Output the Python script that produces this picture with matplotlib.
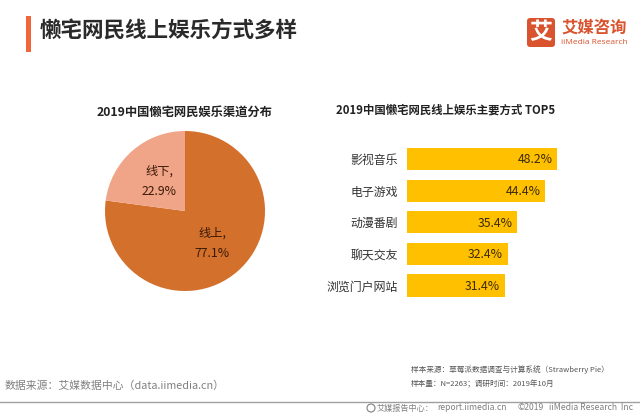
import matplotlib
matplotlib.use('Agg')
import matplotlib.pyplot as plt
from matplotlib.patches import Rectangle, FancyBboxPatch, Circle

plt.rcParams['font.family'] = ['Noto Sans CJK SC', 'DejaVu Sans']

# data
pie_labels = ['线上,\n77.1%', '线下,\n22.9%']
pie_values = [77.1, 22.9]
pie_colors = ['#D2702C', '#F0A488']

bar_labels = ['影视音乐', '电子游戏', '动漫番剧', '聊天交友', '浏览门户网站']
bar_values = [48.2, 44.4, 35.4, 32.4, 31.4]

# full width punctuation
COLON, SEMI, LP, RP = '\uff1a', '\uff1b', '\uff08', '\uff09'

W, H = 640, 416
fig = plt.figure(figsize=(W / 100, H / 100), dpi=100, facecolor='white')

# overlay in pixel coordinates for header and footer
bg = fig.add_axes([0, 0, 1, 1])
bg.set_xlim(0, W)
bg.set_ylim(H, 0)
bg.axis('off')

bg.add_patch(Rectangle((25.5, 16), 5.5, 36, color='#F0663A', lw=0))
bg.text(40, 31, '懒宅网民线上娱乐方式多样', fontsize=15.5, color='#2A2A2A', va='center', weight='bold')

# logo
bg.add_patch(FancyBboxPatch((527, 18), 28, 29, boxstyle='round,pad=0,rounding_size=3', color='#D9532E', lw=0))
bg.text(541, 33, '艾', fontsize=16.5, color='white', weight='bold', ha='center', va='center')
bg.text(561, 28, '艾媒咨询', fontsize=11.8, color='#D9532E', weight='bold', va='center')
bg.text(561, 42, 'iiMedia Research', fontsize=6, color='#D9532E', va='center', family=['Open Sans'])

bg.text(185, 112, '2019中国懒宅网民娱乐渠道分布', fontsize=8.85, color='#222222', weight='bold', ha='center', va='center')
bg.text(446, 110, '2019中国懒宅网民线上娱乐主要方式 TOP5', fontsize=8.2, color='#222222', weight='bold', ha='center', va='center')

# footer
bg.text(5, 386, f'数据来源{COLON}艾媒数据中心{LP}data.iimedia.cn{RP}', fontsize=7.8, color='#808080', va='center')
bg.text(411, 370, f'样本来源{COLON}草莓派数据调查与计算系统{LP}Strawberry Pie{RP}', fontsize=5.5, color='#555555', va='center')
bg.text(411, 384, f'样本量{COLON}N=2263{SEMI}调研时间{COLON}2019年10月', fontsize=5.5, color='#555555', va='center')
bg.plot([0, W], [401.5, 401.5], color='#A0A0A0', lw=1)
bg.add_patch(Circle((371, 408), 4, fill=False, ec='#808080', lw=0.8))
bg.text(377, 408, f'艾媒报告中心{COLON}', fontsize=5.9, color='#808080', va='center')
bg.text(437, 408, 'report.iimedia.cn', fontsize=6.2, color='#808080', va='center')
bg.text(517, 408, '©2019', fontsize=6.2, color='#808080', va='center')
bg.text(549, 408, 'iiMedia Research  Inc', fontsize=6.2, color='#808080', va='center')

# pie
cx, cy, r = 185, 211, 80
ax1 = fig.add_axes([(cx - r) / W, 1 - (cy + r) / H, 2 * r / W, 2 * r / H])
ax1.pie(pie_values, colors=pie_colors, startangle=90, counterclock=False, radius=1,
        wedgeprops={'linewidth': 0})
ax1.set_xlim(-1, 1)
ax1.set_ylim(-1, 1)
ax1.text(0.34, -0.40, pie_labels[0], fontsize=8.8, color='#3A1A08', ha='center', va='center', linespacing=1.75)
ax1.text(-0.325, 0.37, pie_labels[1], fontsize=8.8, color='#3A1A08', ha='center', va='center', linespacing=1.75)

# bars
x0 = 407
px_per_unit = 150 / 48.2
top, bottom = 140, 304.5
ax2 = fig.add_axes([x0 / W, 1 - bottom / H, 170 / W, (bottom - top) / H])
ax2.barh(range(5), bar_values, height=0.70, color='#FFC000', linewidth=0)
ax2.set_xlim(0, 170 / px_per_unit)
ax2.set_ylim(4.6, -0.6)
for s in ax2.spines.values():
    s.set_visible(False)
ax2.set_xticks([])
ax2.set_yticks(range(5))
ax2.set_yticklabels(bar_labels, fontsize=8.6, color='#333333')
ax2.tick_params(axis='y', length=0, pad=6.5)
ax2.patch.set_alpha(0)
for i, v in enumerate(bar_values):
    ax2.text(v - 1.5, i + 0.03, f'{v}%', fontsize=8.8, color='#3A2A08', ha='right', va='center')

fig.savefig('out.png', dpi=100)
